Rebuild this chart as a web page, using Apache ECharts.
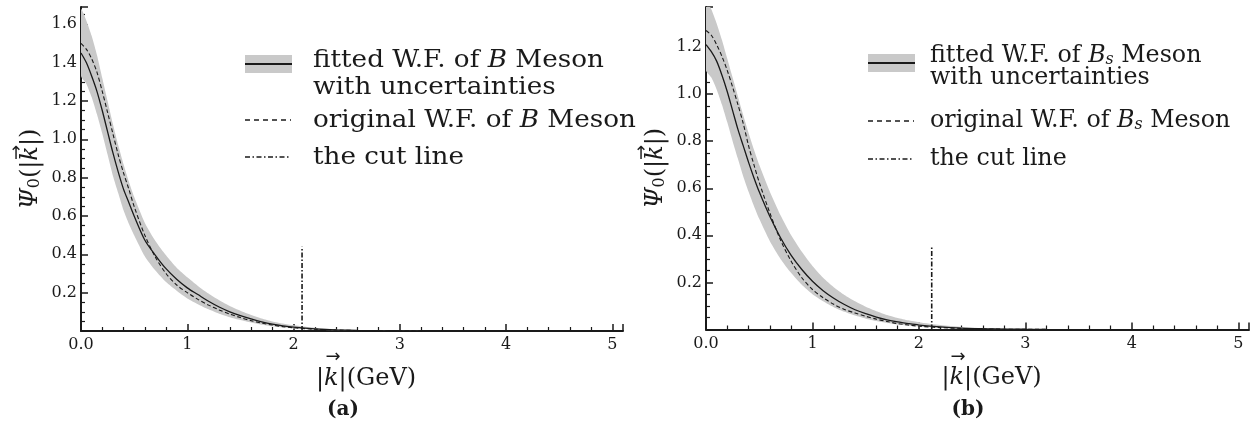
<!DOCTYPE html>
<html>
<head>
<meta charset="utf-8">
<script src="https://cdn.jsdelivr.net/npm/echarts@6/dist/echarts.min.js"></script>
<style>html,body{margin:0;padding:0;background:#fff}#c{width:1252px;height:439px}</style>
</head>
<body>
<div id="c"></div>
<script>
// shared momentum grid |k| (GeV)
const kGrid = [0,0.05,0.1,0.15,0.2,0.25,0.3,0.35,0.4,0.45,0.5,0.6,0.7,0.8,0.9,1.0,1.1,1.2,1.3,1.4,1.5,1.6,1.7,1.8,1.9,2.0,2.2,2.4,2.6,2.8,3.0,3.2];

// (a) B meson
const bFitted = [1.45,1.40,1.33,1.25,1.15,1.04,0.93,0.83,0.74,0.67,0.60,0.475,0.395,0.325,0.27,0.225,0.19,0.155,0.125,0.10,0.08,0.063,0.048,0.036,0.027,0.02,0.011,0.006,0.003,0.0015,0.0008,0.0004];
const bOriginal = [1.50,1.47,1.42,1.35,1.25,1.14,1.03,0.92,0.825,0.74,0.65,0.50,0.385,0.30,0.24,0.20,0.165,0.135,0.11,0.088,0.07,0.054,0.041,0.031,0.023,0.017,0.009,0.005,0.0025,0.0012,0.0006,0.0003];
const bLower = [1.33,1.29,1.22,1.13,1.03,0.92,0.81,0.72,0.63,0.56,0.50,0.39,0.315,0.255,0.21,0.17,0.14,0.113,0.09,0.072,0.057,0.044,0.033,0.025,0.018,0.013,0.007,0.0035,0.0018,0.0009,0.0004,0.0002];
const bUpper = [1.68,1.62,1.54,1.44,1.32,1.20,1.08,0.97,0.87,0.78,0.70,0.565,0.47,0.395,0.33,0.28,0.235,0.195,0.16,0.13,0.105,0.083,0.065,0.05,0.039,0.03,0.017,0.009,0.005,0.0025,0.0012,0.0006];
const bCut = [[2.08,0],[2.08,0.44]];

// (b) Bs meson
const bsFitted = [1.21,1.18,1.14,1.08,1.01,0.93,0.85,0.78,0.71,0.645,0.585,0.48,0.39,0.315,0.255,0.205,0.165,0.133,0.106,0.084,0.067,0.053,0.041,0.032,0.025,0.019,0.011,0.006,0.0035,0.002,0.001,0.0005];
const bsOriginal = [1.27,1.25,1.21,1.16,1.10,1.03,0.955,0.875,0.78,0.70,0.625,0.495,0.38,0.29,0.22,0.17,0.135,0.107,0.085,0.07,0.056,0.044,0.034,0.025,0.019,0.014,0.008,0.0045,0.0025,0.0013,0.0007,0.0003];
const bsLower = [1.10,1.07,1.02,0.955,0.88,0.80,0.725,0.65,0.585,0.525,0.47,0.375,0.30,0.24,0.19,0.15,0.12,0.095,0.075,0.059,0.046,0.036,0.028,0.021,0.016,0.012,0.007,0.0035,0.002,0.001,0.0005,0.0002];
const bsUpper = [1.40,1.36,1.30,1.23,1.15,1.07,0.99,0.91,0.835,0.765,0.70,0.585,0.485,0.40,0.33,0.27,0.22,0.18,0.147,0.12,0.097,0.078,0.062,0.049,0.039,0.031,0.019,0.011,0.006,0.0035,0.002,0.001];
const bsCut = [[2.12,0],[2.12,0.35]];

const yMaxA = 1.69, yMaxB = 1.37, xMax = 5.1;

const FONT = 'DejaVu Serif';
const INK = '#1a1a1a';
const BAND = '#c9c9c9';

function pairs(vals){ return kGrid.map((k,i)=>[k, vals[i]]); }

const richBase = {
  r:{fontFamily:FONT,fontSize:24,color:INK},
  i:{fontFamily:FONT,fontSize:24,fontStyle:'italic',color:INK},
  sub:{fontFamily:FONT,fontSize:16,color:INK,verticalAlign:'bottom',lineHeight:14},
  subi:{fontFamily:FONT,fontSize:16,fontStyle:'italic',color:INK,verticalAlign:'bottom',lineHeight:14}
};
function richLegend(fs){
  return {
    r:{fontFamily:FONT,fontSize:fs,color:INK},
    i:{fontFamily:FONT,fontSize:fs,fontStyle:'italic',color:INK},
    subi:{fontFamily:FONT,fontSize:Math.round(fs*0.68),fontStyle:'italic',color:INK,verticalAlign:'bottom',lineHeight:Math.round(fs*0.6)}
  };
}

function xAxisOpt(gi){
  return {
    gridIndex:gi, type:'value', min:0, max:xMax, interval:1,
    name:'{r||}{i|k}{r||(GeV)}', nameLocation:'middle', nameGap:36,
    nameTextStyle:{rich:richBase, padding:[0,0,0,28]},
    axisLine:{lineStyle:{color:INK,width:2}},
    axisTick:{inside:true,length:7,lineStyle:{color:INK,width:1.5}},
    minorTick:{show:true,splitNumber:5,length:4,lineStyle:{color:INK,width:1.2}},
    splitLine:{show:false},
    axisLabel:{fontFamily:FONT,fontSize:16,color:INK,margin:6,showMaxLabel:false,
      formatter:v=> v===0 ? '0.0' : String(v)}
  };
}
function yAxisOpt(gi,max){
  return {
    gridIndex:gi, type:'value', min:0, max:max, interval:0.2,
    name:'{i|Ψ}{sub|0}{r|(|}{i|k}{r||)}', nameLocation:'middle', nameGap:38,
    nameTextStyle:{rich:richBase},
    axisLine:{lineStyle:{color:INK,width:2}},
    axisTick:{inside:true,length:7,lineStyle:{color:INK,width:1.5}},
    minorTick:{show:true,splitNumber:4,length:4,lineStyle:{color:INK,width:1.2}},
    splitLine:{show:false},
    axisLabel:{fontFamily:FONT,fontSize:16,color:INK,margin:4,showMinLabel:false,showMaxLabel:false,
      formatter:v=>v.toFixed(1)}
  };
}
function bandSeries(gi, lo, up){
  return {
    type:'custom', xAxisIndex:gi, yAxisIndex:gi, silent:true, z:1,
    data: pairs(up),
    renderItem:(params, api)=>{
      if (params.dataIndex !== 0) return null;
      const pts = [];
      for (let i=0;i<kGrid.length;i++) pts.push(api.coord([kGrid[i], up[i]]));
      for (let i=kGrid.length-1;i>=0;i--) pts.push(api.coord([kGrid[i], lo[i]]));
      const cs = params.coordSys;
      return {type:'polygon', shape:{points:pts, smooth:0.2}, style:{fill:BAND},
        clipPath:{type:'rect', shape:{x:cs.x, y:cs.y, width:cs.width, height:cs.height}}};
    }
  };
}
function seriesFor(gi, lo, up, orig, fit, cut){
  const ax = {xAxisIndex:gi, yAxisIndex:gi};
  return [
    bandSeries(gi, lo, up),
    Object.assign({type:'line',name:'orig'+gi,data:pairs(orig),showSymbol:false,symbol:'none',smooth:0.3,
      lineStyle:{color:INK,width:1.1,type:[4,2.5]}},ax),
    Object.assign({type:'line',name:'fit'+gi,data:pairs(fit),showSymbol:false,symbol:'none',smooth:0.3,
      lineStyle:{color:INK,width:1.3}},ax),
    Object.assign({type:'line',name:'cut'+gi,data:cut,showSymbol:false,symbol:'none',
      lineStyle:{color:INK,width:1.6,type:[5,2,1.5,2]}},ax)
  ];
}

function legend(x0, tx, yBand, y1, y2, yD, yC, meson, fs, sx){
  const rich = richLegend(fs);
  const mesonRich = meson === 'B'
    ? '{r|fitted W.F. of }{i|B}{r| Meson}'
    : '{r|fitted W.F. of }{i|B}{subi|s}{r| Meson}';
  const origRich = meson === 'B'
    ? '{r|original W.F. of }{i|B}{r| Meson}'
    : '{r|original W.F. of }{i|B}{subi|s}{r| Meson}';
  const t = (y, text) => ({type:'text', z:100, x:tx, y:y, scaleX:sx,
    style:{text:text, rich:rich, verticalAlign:'middle', align:'left', fill:INK}});
  return [
    {type:'rect', z:100, shape:{x:x0, y:yBand-9, width:47, height:18}, style:{fill:BAND}},
    {type:'line', z:101, shape:{x1:x0, y1:yBand, x2:x0+47, y2:yBand}, style:{stroke:INK, lineWidth:2}},
    t(y1, mesonRich),
    t(y2, '{r|with uncertainties}'),
    {type:'line', z:100, shape:{x1:x0, y1:yD, x2:x0+46, y2:yD}, style:{stroke:INK, lineWidth:1.5, lineDash:[5,4]}},
    t(yD, origRich),
    {type:'line', z:100, shape:{x1:x0, y1:yC, x2:x0+46, y2:yC}, style:{stroke:INK, lineWidth:1.5, lineDash:[5,2.5,1.5,2.5]}},
    t(yC, '{r|the cut line}')
  ];
}
const arrow = (x, y, ch) => ({type:'text', z:100, x:x, y:y,
  style:{text:ch, font:'18px "DejaVu Sans"', fill:INK, align:'center', verticalAlign:'middle'}});

const chart = echarts.init(document.getElementById('c'), null, {renderer:'canvas'});
chart.setOption({
  animation:false,
  backgroundColor:'#fff',
  grid:[
    {left:81, right:629, top:7, bottom:108},
    {left:706, right:3, top:7, bottom:109.5}
  ],
  xAxis:[xAxisOpt(0), xAxisOpt(1)],
  yAxis:[yAxisOpt(0,yMaxA), yAxisOpt(1,yMaxB)],
  series:[
    ...seriesFor(0, bLower, bUpper, bOriginal, bFitted, bCut),
    ...seriesFor(1, bsLower, bsUpper, bsOriginal, bsFitted, bsCut)
  ],
  graphic:[
    ...legend(245, 313, 64, 60, 87, 120, 157, 'B', 25, 1.05),
    ...legend(868, 930, 63, 56, 78, 121, 159, 'Bs', 24, 0.99),
    arrow(333, 357, '→'), arrow(958, 357, '→'),
    arrow(16, 154, '↑'), arrow(641, 154, '↑'),
    {type:'text', x:343, y:410, style:{text:'(a)', font:'bold 20px "DejaVu Serif"', fill:INK, align:'center', verticalAlign:'middle'}},
    {type:'text', x:968, y:410, style:{text:'(b)', font:'bold 20px "DejaVu Serif"', fill:INK, align:'center', verticalAlign:'middle'}}
  ]
});
</script>
</body>
</html>
